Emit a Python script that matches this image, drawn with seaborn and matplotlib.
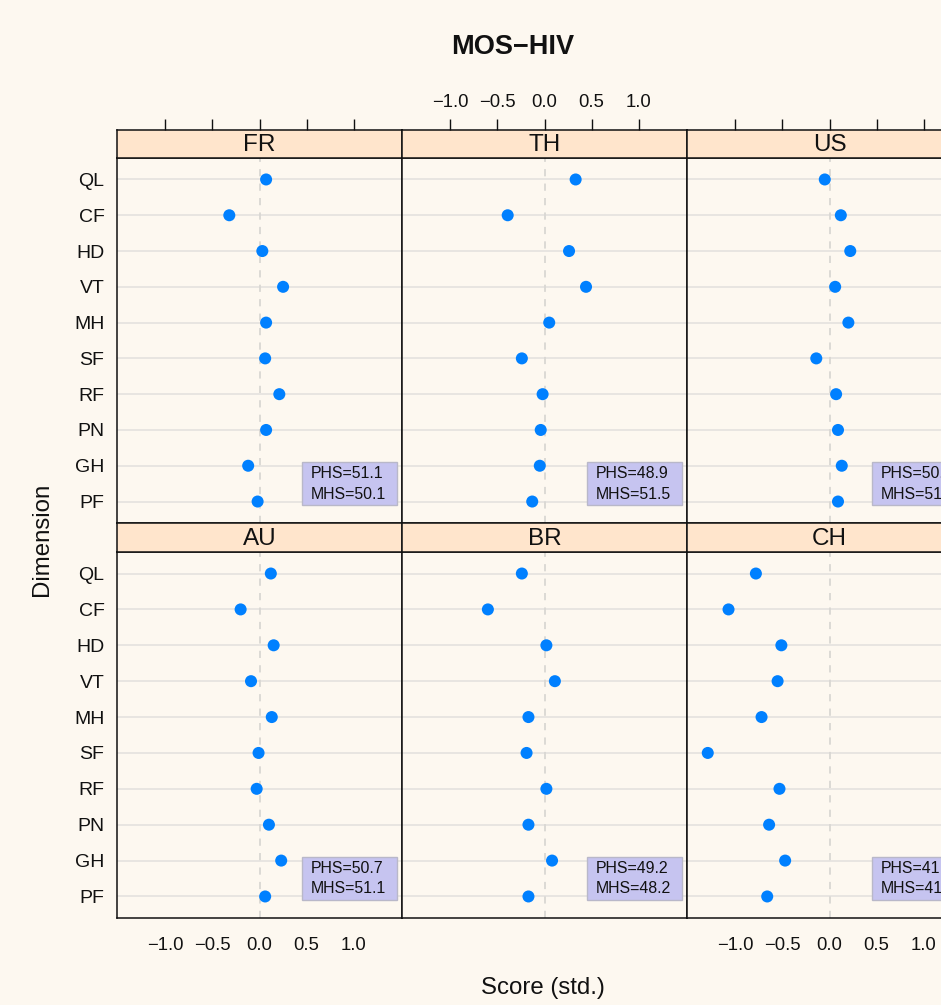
import matplotlib
matplotlib.use("Agg")
import matplotlib.pyplot as plt
from matplotlib.patches import Rectangle
import seaborn as sns
import pandas as pd

# ---- data ----
dimensions = ["QL", "CF", "HD", "VT", "MH", "SF", "RF", "PN", "GH", "PF"]
countries = ["FR", "TH", "US", "AU", "BR", "CH"]
score_fr = [0.07, -0.32, 0.03, 0.25, 0.07, 0.06, 0.21, 0.07, -0.12, -0.02]
score_th = [0.33, -0.39, 0.26, 0.44, 0.05, -0.24, -0.02, -0.04, -0.05, -0.13]
score_us = [-0.05, 0.12, 0.22, 0.06, 0.20, -0.14, 0.07, 0.09, 0.13, 0.09]
score_au = [0.12, -0.20, 0.15, -0.09, 0.13, -0.01, -0.03, 0.10, 0.23, 0.06]
score_br = [-0.24, -0.60, 0.02, 0.11, -0.17, -0.19, 0.02, -0.17, 0.08, -0.17]
score_ch = [-0.78, -1.07, -0.51, -0.55, -0.72, -1.29, -0.53, -0.64, -0.47, -0.66]
phs_values = ["51.1", "48.9", "50.4", "50.7", "49.2", "41.6"]
mhs_values = ["50.1", "51.5", "51.3", "51.1", "48.2", "41.8"]
x_ticks = [-1.0, -0.5, 0.0, 0.5, 1.0]

scores = [score_fr, score_th, score_us, score_au, score_br, score_ch]
df = pd.DataFrame({
    "country": [c for c in countries for _ in dimensions],
    "dimension": dimensions * len(countries),
    "score": [v for s in scores for v in s],
})

# ---- style ----
sns.set_theme(style="white")
plt.rcParams["font.family"] = ["Liberation Sans", "DejaVu Sans"]
BG = "#fdf8f0"
STRIP = "#ffe5cc"
DOT = "#0080ff"

W, H = 941, 1005
fig = plt.figure(figsize=(W / 100, H / 100), dpi=100, facecolor=BG)

col_x = [117, 402, 687]
pw = 285
rows = [(130, 158, 523), (523, 552, 918)]  # strip top, panel top, panel bottom

xlim = (-1.51, 1.51)
ylim = (len(dimensions) - 0.4, -0.6)

def fx(px):
    return px / W

def fy(py):
    return 1 - py / H

for i, country in enumerate(countries):
    r, c = divmod(i, 3)
    st, pt, pb = rows[r]
    x0 = col_x[c]
    ax = fig.add_axes([fx(x0), fy(pb), pw / W, (pb - pt) / H])
    sax = fig.add_axes([fx(x0), fy(pt), pw / W, (pt - st) / H])
    ax.set_facecolor(BG)
    sax.set_facecolor(STRIP)

    # reference lines
    for k in range(len(dimensions)):
        ax.axhline(k, color="#e4e2de", lw=1.2, zorder=1)
    ax.axvline(0, color="#d9d7d3", lw=1.3, ls=(0, (4, 4)), zorder=1)

    sub = df[df["country"] == country]
    sns.scatterplot(data=sub, x="score", y="dimension", ax=ax, color=DOT,
                    s=75, edgecolor="none", linewidth=0, zorder=3, legend=False)

    ax.set_xlim(xlim)
    ax.set_ylim(ylim)
    ax.set_xlabel("")
    ax.set_ylabel("")
    ax.set_yticks(range(len(dimensions)))
    if c == 0:
        ax.set_yticklabels(dimensions, fontsize=14, color="#111111")
    else:
        ax.set_yticklabels([])
    ax.tick_params(axis="y", length=0, pad=9)

    # annotation box
    ng = len(dimensions)
    ax.add_patch(Rectangle((0.45, ng - 2 - 0.1), 1.01, 1.2,
                           facecolor="#c6c4f0", edgecolor="#b9b8c9",
                           lw=1.0, zorder=2))
    ax.text(0.54, ng - 1 - 0.77, "PHS=" + phs_values[i], fontsize=11.4,
            va="center", ha="left", color="#111111", zorder=4)
    ax.text(0.54, ng - 1 - 0.21, "MHS=" + mhs_values[i], fontsize=11.4,
            va="center", ha="left", color="#111111", zorder=4)

    # strip
    sax.set_xlim(xlim)
    sax.set_ylim(0, 1)
    sax.set_yticks([])
    sax.text(0.5, 0.45, country, transform=sax.transAxes, ha="center",
             va="center", fontsize=17.5, color="#111111")

    for a in (ax, sax):
        for sp in a.spines.values():
            sp.set_color("#111111")
            sp.set_linewidth(1.1)

    if r == 0:
        ax.set_xticks([])
        sax.set_xticks(x_ticks)
        sax.xaxis.set_ticks_position("top")
        sax.tick_params(axis="x", direction="out", length=8, width=1,
                        color="#111111", pad=6, labelsize=13.3,
                        top=True, bottom=False, labeltop=(c == 1),
                        labelbottom=False, labelcolor="#111111")
        if c != 1:
            sax.set_xticklabels([])
    else:
        sax.set_xticks([])
        ax.set_xticks(x_ticks)
        ax.tick_params(axis="x", direction="out", length=8, width=1,
                       color="#111111", pad=6, labelsize=13.3,
                       labelbottom=(c != 1), labelcolor="#111111")
        if c == 1:
            ax.set_xticklabels([])

fig.text(fx(513), fy(47), "MOS\u2212HIV", ha="center", va="center",
         fontsize=19.5, fontweight="bold", color="#111111")
fig.text(fx(543), fy(988), "Score (std.)", ha="center", va="center",
         fontsize=17.3, color="#111111")
fig.text(fx(42), fy(539), "Dimension", ha="center", va="center",
         rotation=90, fontsize=17.3, color="#111111")

fig.savefig("out.png", dpi=100, facecolor=BG)
